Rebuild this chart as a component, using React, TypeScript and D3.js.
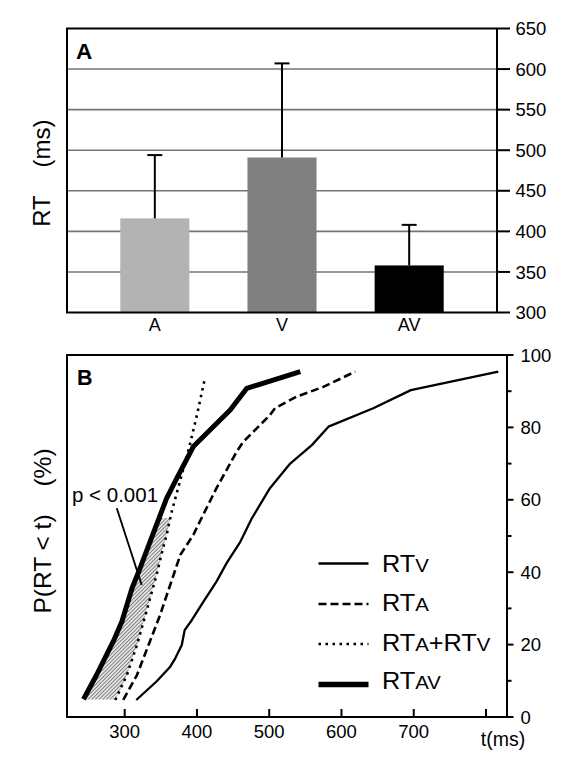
import React from "react";
import * as d3 from "d3";

// ---------- Panel A data ----------
const barCategories = ["A", "V", "AV"];
const barMeans = [416, 491, 358];
const barSD = [78, 116, 50];
const barColors = ["#b3b3b3", "#808080", "#000000"];
const rtTicks = [300, 350, 400, 450, 500, 550, 600, 650];

// ---------- Panel B data (t in ms, P in %) ----------
const rtV_t = [316, 344, 363, 370, 379, 383, 393, 409, 427, 441, 460, 476, 501, 529, 559, 582, 644, 696, 817];
const rtV_p = [4.7, 9.8, 13.9, 16.2, 19.9, 24, 26.8, 31.9, 37.4, 42.5, 48.4, 54.9, 63.2, 70, 75.1, 80.2, 85.3, 90.3, 95.4];
const rtA_t = [298, 317, 333, 349, 363, 377, 395, 404, 427, 455, 464, 501, 508, 538, 575, 619];
const rtA_p = [4.7, 11.6, 19.9, 28.2, 36.5, 44.8, 50.3, 54, 63.2, 73.3, 76, 83.4, 85.3, 88.5, 91.2, 95.4];
const rtSum_t = [287, 303, 317, 330, 344, 353, 358, 365, 377, 390, 400, 411];
const rtSum_p = [4.7, 11.6, 19.9, 29.1, 39.2, 46.6, 50.3, 56.7, 65.5, 75.1, 83.4, 93.6];
const rtAV_t = [243, 261, 284, 296, 310, 321, 335, 358, 372, 395, 446, 469, 543];
const rtAV_p = [4.9, 11.6, 20.8, 26.3, 35.5, 41, 48.4, 60.4, 65.9, 74.7, 84.8, 90.8, 95.4];
const timeTicks = [300, 400, 500, 600, 700, 800];
const timeLabels = ["300", "400", "500", "600", "700", ""];
const pTicks = [0, 10, 20, 30, 40, 50, 60, 70, 80, 90, 100];
const hatchRange = [4.8, 55];
const pointer = { t0: 289, p0: 57.7, t1: 323.5, p1: 36.5 };

const FONT = "'Liberation Sans', Arial, Helvetica, sans-serif";

function interpT(ts: number[], ps: number[], p: number) {
  for (let i = 0; i < ps.length - 1; i++) {
    if (p >= ps[i] && p <= ps[i + 1]) {
      const f = (p - ps[i]) / (ps[i + 1] - ps[i]);
      return ts[i] + f * (ts[i + 1] - ts[i]);
    }
  }
  return p < ps[0] ? ts[0] : ts[ts.length - 1];
}

export default function App() {
  // Panel A scales
  const aLeft = 67, aRight = 497, aTop = 28.5, aBottom = 312.5;
  const yA = d3.scaleLinear().domain([300, 650]).range([aBottom, aTop]);
  const xA = d3.scaleBand<string>().domain(barCategories).range([aLeft, aRight]).paddingInner(0.457).paddingOuter(0.419);

  // Panel B scales
  const bLeft = 67, bRight = 507, bTop = 355, bBottom = 717;
  const xB = d3.scaleLinear().domain([300, 800]).range([124.7, 486]);
  const yB = d3.scaleLinear().domain([0, 100]).range([bBottom, bTop]);

  const line = (ts: number[], ps: number[]) =>
    d3.line<number>().x((_, i) => xB(ts[i])).y((_, i) => yB(ps[i]))(ts as any) || "";

  // hatched region between RTAV and RTA+RTV
  const pSet = Array.from(new Set([hatchRange[0], hatchRange[1], ...rtAV_p, ...rtSum_p]))
    .filter((p) => p >= hatchRange[0] && p <= hatchRange[1])
    .sort((a, b) => a - b);
  const hatchArea = d3
    .area<number>()
    .y((p) => yB(p))
    .x0((p) => xB(interpT(rtAV_t, rtAV_p, p)))
    .x1((p) => xB(interpT(rtSum_t, rtSum_p, p)))(pSet) || "";

  const legendItems = [
    { sub: "V", extra: "", dash: "none", w: 2.5 },
    { sub: "A", extra: "", dash: "8,4", w: 2.5 },
    { sub: "A", extra: "V", dash: "2.5,4.5", w: 2.5 },
    { sub: "AV", extra: "", dash: "none", w: 5.5 },
  ];
  const legendY = [563.5, 604, 644, 684.5];
  const legendBase = [572, 611, 651, 689];

  return (
    <svg width={566} height={766} style={{ position: "absolute", left: 0, top: 0, background: "#fff" }} fontFamily={FONT}>
      <defs>
        <pattern id="hatch" width={2.6} height={2.6} patternUnits="userSpaceOnUse" patternTransform="rotate(45)">
          <rect width={2.6} height={2.6} fill="#e4e4e4" />
          <line x1={0} y1={0} x2={0} y2={2.6} stroke="#3a3a3a" strokeWidth={1.1} />
        </pattern>
      </defs>

      {/* ===== Panel A ===== */}
      {rtTicks.filter((v) => v > 300 && v < 650).map((v) => (
        <line key={"g" + v} x1={aLeft} x2={aRight} y1={yA(v)} y2={yA(v)} stroke="#747474" strokeWidth={1.6} />
      ))}
      {barCategories.map((c, i) => (
        <rect key={"b" + c} x={xA(c)} y={yA(barMeans[i])} width={xA.bandwidth()} height={yA(300) - yA(barMeans[i])} fill={barColors[i]} />
      ))}
      {barCategories.map((c, i) => {
        const cx = (xA(c) as number) + xA.bandwidth() / 2;
        return (
          <g key={"e" + c} stroke="#000" strokeWidth={2}>
            <line x1={cx} x2={cx} y1={yA(barMeans[i])} y2={yA(barMeans[i] + barSD[i])} />
            <line x1={cx - 7.5} x2={cx + 7.5} y1={yA(barMeans[i] + barSD[i])} y2={yA(barMeans[i] + barSD[i])} />
          </g>
        );
      })}
      <polyline points={`${aRight},${aTop} ${aLeft},${aTop} ${aLeft},${aBottom} ${aRight},${aBottom}`} fill="none" stroke="#000" strokeWidth={2} />
      <line x1={aRight} x2={aRight} y1={aTop} y2={aBottom} stroke="#000" strokeWidth={2} />
      {rtTicks.map((v) => (
        <g key={"t" + v}>
          <line x1={aRight} x2={aRight + 13} y1={yA(v)} y2={yA(v)} stroke="#000" strokeWidth={2} />
          <text x={515.5} y={yA(v)} dy="0.36em" fontSize={18.5} fill="#000">{v}</text>
        </g>
      ))}
      {barCategories.map((c) => (
        <text key={"l" + c} x={(xA(c) as number) + xA.bandwidth() / 2} y={331} textAnchor="middle" fontSize={18}>{c}</text>
      ))}
      <text x={76} y={59} fontSize={22.5} fontWeight="bold">A</text>
      <text transform="translate(50,211) rotate(-90)" textAnchor="middle" fontSize={24}>RT</text>
      <text transform="translate(50,143.5) rotate(-90)" textAnchor="middle" fontSize={24}>(ms)</text>

      {/* ===== Panel B ===== */}
      <path d={hatchArea} fill="url(#hatch)" stroke="none" />
      <path d={line(rtV_t, rtV_p)} fill="none" stroke="#000" strokeWidth={2.3} strokeLinejoin="round" />
      <path d={line(rtA_t, rtA_p)} fill="none" stroke="#000" strokeWidth={2.6} strokeDasharray="8,4" />
      <path d={line(rtSum_t, rtSum_p)} fill="none" stroke="#000" strokeWidth={2.6} strokeDasharray="2.5,4.5" />
      <path d={line(rtAV_t, rtAV_p)} fill="none" stroke="#000" strokeWidth={5} strokeLinejoin="round" />

      <polyline points={`${bRight},${bTop} ${bLeft},${bTop} ${bLeft},${bBottom} ${bRight},${bBottom}`} fill="none" stroke="#000" strokeWidth={2} />
      <line x1={bRight} x2={bRight} y1={bTop} y2={bBottom} stroke="#000" strokeWidth={2} />
      {pTicks.map((v) => (
        <g key={"p" + v}>
          <line x1={bRight} x2={bRight + (v % 20 === 0 ? 6.5 : 4.5)} y1={yB(v)} y2={yB(v)} stroke="#000" strokeWidth={2} />
          {v % 20 === 0 && (
            <text x={520.5} y={yB(v)} dy="0.36em" fontSize={18.5}>{v}</text>
          )}
        </g>
      ))}
      {timeTicks.map((v, i) => (
        <g key={"x" + v}>
          <line x1={xB(v)} x2={xB(v)} y1={bBottom} y2={bBottom - 8} stroke="#000" strokeWidth={2} />
          {timeLabels[i] && (
            <text x={xB(v)} y={738} textAnchor="middle" fontSize={18.5}>{timeLabels[i]}</text>
          )}
        </g>
      ))}
      <text x={503} y={746} textAnchor="middle" fontSize={19.5}>t(ms)</text>
      <text x={77} y={385} fontSize={21.5} fontWeight="bold">B</text>
      <text transform="translate(51,564) rotate(-90)" textAnchor="middle" fontSize={24.5}>P(RT &lt; t)</text>
      <text transform="translate(51,467.5) rotate(-90)" textAnchor="middle" fontSize={24.5}>(%)</text>

      <text x={72} y={502} fontSize={20.5}>p &lt; 0.001</text>
      <line x1={xB(pointer.t0)} y1={yB(pointer.p0)} x2={xB(pointer.t1)} y2={yB(pointer.p1)} stroke="#000" strokeWidth={1.8} />

      {legendItems.map((it, i) => (
        <g key={"lg" + i}>
          <line x1={318.5} x2={368.5} y1={legendY[i]} y2={legendY[i]} stroke="#000" strokeWidth={it.w} strokeDasharray={it.dash} />
          <g transform={`translate(382,${legendBase[i]}) scale(1.1,1)`}>
            <text x={0} y={0} fontSize={23}>
              RT<tspan fontSize={18.5}>{it.sub}</tspan>
              {it.extra && (
                <>
                  +RT<tspan fontSize={18.5}>{it.extra}</tspan>
                </>
              )}
            </text>
          </g>
        </g>
      ))}
    </svg>
  );
}
